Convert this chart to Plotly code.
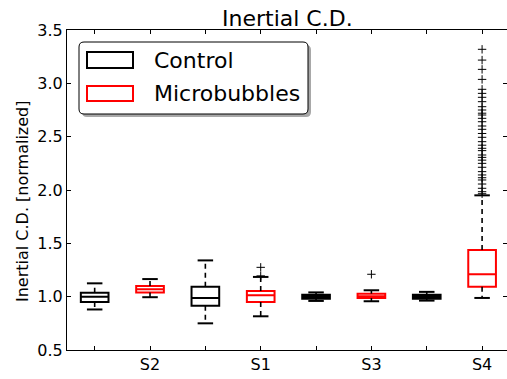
import plotly.graph_objects as go

# ---------------- data ----------------
groups = ["S2", "S1", "S3", "S4"]
control_pos = [1, 3, 5, 7]
micro_pos = [2, 4, 6, 8]

control_q1 = [0.950, 0.915, 0.980, 0.980]
control_med = [1.000, 0.988, 1.000, 1.000]
control_q3 = [1.037, 1.094, 1.018, 1.018]
control_lo = [0.880, 0.750, 0.960, 0.963]
control_hi = [1.125, 1.340, 1.040, 1.045]

micro_q1 = [1.040, 0.950, 0.988, 1.094]
micro_med = [1.070, 1.013, 1.005, 1.210]
micro_q3 = [1.100, 1.053, 1.028, 1.437]
micro_lo = [0.995, 0.816, 0.957, 0.988]
micro_hi = [1.165, 1.185, 1.060, 1.950]

micro_outliers_S1 = [1.275, 1.195]
micro_outliers_S3 = [1.210]
micro_outliers_S4 = [3.319, 3.218, 3.131, 3.037, 2.944, 2.906, 2.869, 2.828, 2.781,
                     2.750, 2.720, 2.703, 2.672, 2.640, 2.600, 2.569, 2.530, 2.494,
                     2.453, 2.420, 2.391, 2.369, 2.328, 2.306, 2.280, 2.250, 2.213,
                     2.172, 2.141, 2.115, 2.094, 2.056, 2.016, 1.984, 1.965]

y_ticks = [0.5, 1.0, 1.5, 2.0, 2.5, 3.0, 3.5]

FONT = "DejaVu Sans"
CAP = 0.14

fig = go.Figure()

# whiskers (dashed) and caps
def whisker_xy(pos, q1, q3, lo, hi):
    xs, ys = [], []
    for p, a, b, l, h in zip(pos, q1, q3, lo, hi):
        xs += [p, p, None, p, p, None]
        ys += [b, h, None, a, l, None]
    return xs, ys

def cap_xy(pos, lo, hi):
    xs, ys = [], []
    for p, l, h in zip(pos, lo, hi):
        xs += [p - CAP, p + CAP, None, p - CAP, p + CAP, None]
        ys += [h, h, None, l, l, None]
    return xs, ys

for pos, q1, q3, lo, hi in [(control_pos, control_q1, control_q3, control_lo, control_hi),
                            (micro_pos, micro_q1, micro_q3, micro_lo, micro_hi)]:
    wx, wy = whisker_xy(pos, q1, q3, lo, hi)
    fig.add_trace(go.Scatter(x=wx, y=wy, mode="lines", showlegend=False, hoverinfo="skip",
                             line=dict(color="black", width=1.6, dash="5px,4px")))
    cx, cy = cap_xy(pos, lo, hi)
    fig.add_trace(go.Scatter(x=cx, y=cy, mode="lines", showlegend=False, hoverinfo="skip",
                             line=dict(color="black", width=2)))

# boxes
fig.add_trace(go.Box(x=control_pos, q1=control_q1, median=control_med, q3=control_q3,
                     lowerfence=control_q1, upperfence=control_q3, width=0.5,
                     whiskerwidth=0, boxpoints=False, showlegend=False,
                     line=dict(color="black", width=2), fillcolor="rgba(0,0,0,0)"))
fig.add_trace(go.Box(x=micro_pos, q1=micro_q1, median=micro_med, q3=micro_q3,
                     lowerfence=micro_q1, upperfence=micro_q3, width=0.5,
                     whiskerwidth=0, boxpoints=False, showlegend=False,
                     line=dict(color="red", width=2), fillcolor="rgba(0,0,0,0)"))

# outliers
out_x = ([micro_pos[1]] * len(micro_outliers_S1) + [micro_pos[2]] * len(micro_outliers_S3)
         + [micro_pos[3]] * len(micro_outliers_S4))
out_y = micro_outliers_S1 + micro_outliers_S3 + micro_outliers_S4
fig.add_trace(go.Scatter(x=out_x, y=out_y, mode="markers", showlegend=False,
                         marker=dict(symbol="cross-thin-open", size=6, color="black",
                                     line=dict(color="black", width=1))))

# dummy for right-side ticks
fig.add_trace(go.Scatter(x=[1], y=[1], yaxis="y2", mode="none", showlegend=False,
                         hoverinfo="skip"))

tick_text = []
for g in groups:
    tick_text += ["", g]
sorted_pos = sorted(control_pos + micro_pos)

fig.update_layout(
    width=507, height=379,
    margin=dict(l=67, r=0, t=30, b=29),
    paper_bgcolor="white", plot_bgcolor="white",
    boxmode="overlay",
    font=dict(family=FONT, size=16, color="black"),
    xaxis=dict(range=[0.5, 8.45], tickvals=sorted_pos, ticktext=tick_text,
               automargin=False,
               showgrid=False, zeroline=False, showline=True, linecolor="black",
               linewidth=1, mirror="ticks", ticks="inside", ticklen=4,
               tickcolor="black", tickfont=dict(size=16, family=FONT)),
    yaxis=dict(range=[0.5, 3.5], tickvals=y_ticks, tickformat=".1f",
               automargin=False,
               showgrid=False, zeroline=False, showline=True, linecolor="black",
               linewidth=1, mirror=False, ticks="inside", ticklen=4,
               tickcolor="black", tickfont=dict(size=16, family=FONT)),
    yaxis2=dict(range=[0.5, 3.5], tickvals=y_ticks, overlaying="y", side="right",
                anchor="x", showticklabels=False, showgrid=False, zeroline=False,
                automargin=False,
                showline=False, ticks="inside", ticklen=4, tickcolor="black"),
)

# title
fig.add_annotation(text="Inertial C.D.", xref="paper", yref="paper", x=0.5, y=1,
                   yshift=12, xanchor="center", yanchor="middle", showarrow=False,
                   font=dict(size=22, family=FONT, color="black"))

# y-axis label
fig.add_annotation(text="Inertial C.D. [normalized]", xref="paper", yref="paper",
                   x=0, y=0.5, xshift=-45, yshift=-12, textangle=-90,
                   xanchor="center", yanchor="middle", showarrow=False,
                   font=dict(size=16, family=FONT, color="black"))

# legend (manual, pixel-based)
def rrect(l, r, t, b, rad, dx=0, dy=0):
    l += dx; r += dx; t += dy; b += dy
    return (f"M{l+rad},{t} L{r-rad},{t} Q{r},{t} {r},{t-rad} L{r},{b+rad} "
            f"Q{r},{b} {r-rad},{b} L{l+rad},{b} Q{l},{b} {l},{b+rad} "
            f"L{l},{t-rad} Q{l},{t} {l+rad},{t} Z")

common = dict(xref="paper", yref="paper", xsizemode="pixel", ysizemode="pixel",
              xanchor=0, yanchor=1)
fig.add_shape(type="path", path=rrect(12, 241, -12, -84, 5, 3, -3),
              fillcolor="#a8a8a8", line=dict(width=0), **common)
fig.add_shape(type="path", path=rrect(12, 241, -12, -84, 5),
              fillcolor="white", line=dict(color="black", width=1), **common)
fig.add_shape(type="rect", x0=20, x1=66, y0=-22, y1=-38,
              line=dict(color="black", width=2), fillcolor="rgba(0,0,0,0)", **common)
fig.add_shape(type="rect", x0=20, x1=66, y0=-56, y1=-71,
              line=dict(color="red", width=2), fillcolor="rgba(0,0,0,0)", **common)
fig.add_annotation(text="Control", xref="paper", yref="paper", x=0, y=1, xshift=85,
                   yshift=-30, xanchor="left", yanchor="middle", showarrow=False,
                   font=dict(size=22, family=FONT, color="black"))
fig.add_annotation(text="Microbubbles", xref="paper", yref="paper", x=0, y=1, xshift=85,
                   yshift=-63, xanchor="left", yanchor="middle", showarrow=False,
                   font=dict(size=22, family=FONT, color="black"))

# remove the page's default 8px body margin so the figure fills the window
fig.write_html("out.html", config={"displayModeBar": False},
               post_script="document.body.style.margin='0';")
